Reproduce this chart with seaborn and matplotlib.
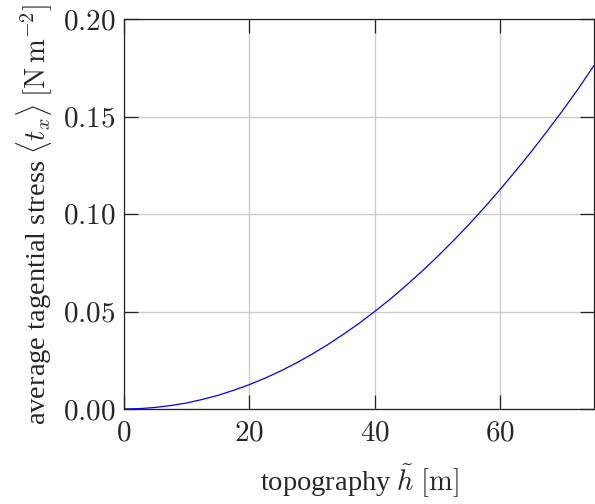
import matplotlib
matplotlib.use("Agg")
import matplotlib.pyplot as plt
import seaborn as sns
import pandas as pd

# topography height [m] and averaged tangential stress [N m^-2]
topography = [0, 2.5, 5, 7.5, 10, 12.5, 15, 17.5, 20, 22.5, 25, 27.5, 30, 32.5,
              35, 37.5, 40, 42.5, 45, 47.5, 50, 52.5, 55, 57.5, 60, 62.5, 65,
              67.5, 70, 72.5, 75]
stress = [0.0, 0.0002, 0.0008, 0.0018, 0.0031, 0.0049, 0.0070, 0.0096, 0.0125,
          0.0158, 0.0195, 0.0236, 0.0281, 0.0330, 0.0383, 0.0439, 0.0500,
          0.0564, 0.0633, 0.0705, 0.0781, 0.0861, 0.0945, 0.1033, 0.1125,
          0.1221, 0.1320, 0.1424, 0.1531, 0.1643, 0.1762]

x_ticks = [0, 20, 40, 60]
y_ticks = [0.00, 0.05, 0.10, 0.15, 0.20]
x_tick_labels = ["0", "20", "40", "60"]
y_tick_labels = ["0.00", "0.05", "0.10", "0.15", "0.20"]

sns.set_theme(style="whitegrid")
plt.rcParams["font.family"] = ["Liberation Serif", "DejaVu Serif"]
plt.rcParams["mathtext.fontset"] = "cm"

df = pd.DataFrame({"h": topography, "t": stress})

fig = plt.figure(figsize=(5.95, 5.04), dpi=100)
ax = fig.add_axes([124 / 595, (504 - 409) / 504, (594 - 124) / 595, (409 - 19) / 504])
ax.set_facecolor("white")

sns.lineplot(data=df, x="h", y="t", ax=ax, color="#0000ff", linewidth=0.9)

ax.set_xlim(0, 75)
ax.set_ylim(0, 0.20)
ax.set_xticks(x_ticks)
ax.set_yticks(y_ticks)
ax.set_xticklabels(["$" + s + "$" for s in x_tick_labels], fontsize=21)
ax.set_yticklabels(["$" + s + "$" for s in y_tick_labels], fontsize=21)

ax.grid(True, color="#cccccc", linewidth=1.0)
ax.set_axisbelow(True)
for sp in ax.spines.values():
    sp.set_visible(True)
    sp.set_color("#222222")
    sp.set_linewidth(0.9)

ax.tick_params(axis="both", which="both", direction="in", length=10, width=0.9,
               color="#222222", top=True, right=True, bottom=True, left=True,
               pad=6)
ax.tick_params(axis="x", pad=8)

ax.set_xlabel(r"topography $\tilde{h}$ $[\mathrm{m}]$", fontsize=20.5, labelpad=12)
ax.set_ylabel(r"average tagential stress $\langle t_x\rangle$ $[\mathrm{N\,m}^{-2}]$",
              fontsize=20.5, labelpad=6)

fig.savefig("out.png", dpi=100)
